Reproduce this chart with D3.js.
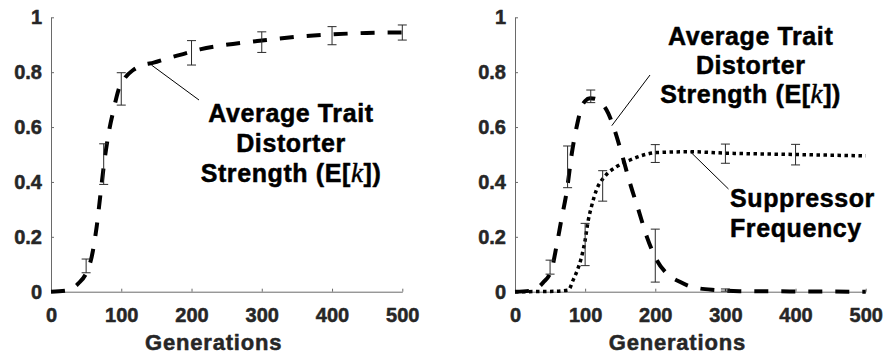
<!DOCTYPE html>
<html>
<head>
<meta charset="utf-8">
<script src="https://cdn.jsdelivr.net/npm/d3@7"></script>
<style>
  html, body { margin: 0; padding: 0; background: #fff; }
  svg { display: block; }
  text { font-family: "Liberation Sans", Arial, Helvetica, sans-serif; font-weight: bold; }
</style>
</head>
<body>
<svg id="chart" width="885" height="359"></svg>
<script>
// Axis ticks shared by both panels
const genTicks = [0, 100, 200, 300, 400, 500];
const valueTicks = [0, 0.2, 0.4, 0.6, 0.8, 1];

// Left panel: average trait distorter strength E[k] (no suppressor)
const leftGens     = [0, 22, 39, 51, 58, 65, 70, 75, 82, 89, 96, 105, 117, 131, 146, 165, 188, 212, 259, 307, 354, 402, 449, 500];
const leftStrength = [0, 0.004, 0.03, 0.073, 0.128, 0.237, 0.346, 0.456, 0.577, 0.662, 0.735, 0.778, 0.808, 0.826, 0.835, 0.85, 0.866, 0.883, 0.903, 0.917, 0.93, 0.938, 0.943, 0.945];
const leftBarGens  = [50, 75, 100, 200, 300, 400, 500];
const leftBarLow   = [0.069, 0.391, 0.680, 0.826, 0.872, 0.900, 0.917];
const leftBarHigh  = [0.119, 0.539, 0.798, 0.915, 0.947, 0.966, 0.972];

// Right panel: E[k] with a suppressor present
const rightGens     = [0, 20, 30, 40, 52, 59, 66, 74, 81, 89, 95, 100, 107, 114, 121, 133, 142, 152, 164, 176, 188, 202, 216, 235, 254, 287, 320, 400, 500];
const rightStrength = [0, 0.003, 0.01, 0.033, 0.079, 0.164, 0.261, 0.37, 0.504, 0.614, 0.674, 0.695, 0.705, 0.703, 0.693, 0.65, 0.589, 0.504, 0.395, 0.298, 0.2, 0.115, 0.067, 0.036, 0.016, 0.006, 0.002, 0.001, 0];
const rightBarGens  = [50, 75, 108, 200, 300];
const rightBarLow   = [0.064, 0.379, 0.689, 0.035, 0.002];
const rightBarHigh  = [0.115, 0.531, 0.735, 0.228, 0.010];

// Right panel: suppressor frequency
const suppGens     = [0, 50, 76, 83, 89, 95, 100, 104.5, 109, 116, 128, 145, 164, 183, 202, 250, 300, 400, 500];
const suppFreq     = [0, 0.001, 0.006, 0.043, 0.079, 0.128, 0.188, 0.261, 0.31, 0.37, 0.42, 0.456, 0.48, 0.498, 0.507, 0.51, 0.505, 0.5, 0.495];
const suppBarGens  = [100, 125, 200, 300, 400];
const suppBarLow   = [0.095, 0.330, 0.471, 0.468, 0.462];
const suppBarHigh  = [0.249, 0.441, 0.536, 0.538, 0.537];

const svg = d3.select("#chart");
const yTop = 17.3, yBottom = 291.7;
const axisColor = "#6a6a6a";
const labelColor = "#262626";

// Slightly heavier glyphs: a thin outline in the fill colour
function heavy(sel, color, w) {
  sel.attr("stroke", color).attr("stroke-width", w).attr("stroke-linejoin", "round").attr("paint-order", "stroke");
}

function makePanel(x0, x1) {
  const x = d3.scaleLinear().domain([0, 500]).range([x0, x1]);
  const y = d3.scaleLinear().domain([0, 1]).range([yBottom, yTop]);
  const g = svg.append("g");

  const xAxis = g.append("g")
    .attr("transform", `translate(0,${yBottom})`)
    .call(d3.axisBottom(x).tickValues(genTicks).tickSizeInner(-3).tickSizeOuter(0).tickPadding(16).tickFormat(d3.format("d")));
  const yAxis = g.append("g")
    .attr("transform", `translate(${x0},0)`)
    .call(d3.axisLeft(y).tickValues(valueTicks).tickSizeInner(-3).tickSizeOuter(0).tickPadding(9).tickFormat(d3.format("~g")));
  [xAxis, yAxis].forEach(a => {
    a.attr("font-size", null).attr("font-family", null);
    a.select(".domain").attr("stroke", axisColor).attr("stroke-width", 1);
    a.selectAll(".tick line").attr("stroke", axisColor).attr("stroke-width", 1);
    const t = a.selectAll(".tick text")
      .attr("fill", labelColor)
      .style("font-size", "20px")
      .style("font-family", "'Liberation Sans', Arial, sans-serif")
      .style("font-weight", "bold");
    heavy(t, labelColor, 0.5);
  });

  const lab = g.append("text")
    .attr("x", (x0 + x1) / 2 - 13)
    .attr("y", 350)
    .attr("text-anchor", "middle")
    .attr("fill", labelColor)
    .style("font-size", "22px")
    .style("letter-spacing", "0.8px")
    .text("Generations");
  heavy(lab, labelColor, 0.5);

  return { g, x, y };
}

function drawLine(panel, xs, ys, dash, width) {
  const line = d3.line()
    .x(d => panel.x(d[0]))
    .y(d => panel.y(d[1]))
    .curve(d3.curveMonotoneX);
  panel.g.append("path")
    .datum(xs.map((v, i) => [v, ys[i]]))
    .attr("d", line)
    .attr("fill", "none")
    .attr("stroke", "#000")
    .attr("stroke-width", width)
    .attr("stroke-dasharray", dash);
}

function drawBars(panel, gens, low, high) {
  const half = 4.5;
  const bars = panel.g.append("g").attr("stroke", "#2a2a2a").attr("stroke-width", 1).attr("fill", "none");
  gens.forEach((gen, i) => {
    const cx = panel.x(gen), yl = panel.y(low[i]), yh = panel.y(high[i]);
    bars.append("line").attr("x1", cx).attr("x2", cx).attr("y1", yl).attr("y2", yh);
    bars.append("line").attr("x1", cx - half).attr("x2", cx + half).attr("y1", yl).attr("y2", yl);
    bars.append("line").attr("x1", cx - half).attr("x2", cx + half).attr("y1", yh).attr("y2", yh);
  });
}

function leader(panel, p0, p1) {
  panel.g.append("line")
    .attr("x1", panel.x(p0[0])).attr("y1", panel.y(p0[1]))
    .attr("x2", p1[0]).attr("y2", p1[1])
    .attr("stroke", "#000").attr("stroke-width", 1);
}

function strengthLabel(panel, cx, baseline, spacing) {
  const t = panel.g.append("text")
    .attr("text-anchor", "middle")
    .attr("fill", "#000")
    .style("font-size", "25px")
    .style("letter-spacing", "0.6px");
  heavy(t, "#000", 0.5);
  t.append("tspan").attr("x", cx).attr("y", baseline).text("Average Trait");
  t.append("tspan").attr("x", cx).attr("y", baseline + spacing).text("Distorter");
  const s = t.append("tspan").attr("x", cx).attr("y", baseline + 2 * spacing);
  s.append("tspan").text("Strength (E[");
  s.append("tspan")
    .style("font-family", "'Liberation Serif', 'DejaVu Serif', serif")
    .style("font-style", "italic")
    .style("font-weight", "normal")
    .style("font-size", "27px")
    .text("k");
  s.append("tspan").text("])");
}

// Left panel
const left = makePanel(51, 402.3);
drawLine(left, leftGens, leftStrength, "14,13", 4);
drawBars(left, leftBarGens, leftBarLow, leftBarHigh);
leader(left, [143, 0.826], [199, 100]);
strengthLabel(left, 291, 122.3, 30);

// Right panel
const right = makePanel(515, 865.7);
drawLine(right, rightGens, rightStrength, "14,13", 4);
drawLine(right, suppGens, suppFreq, "3.5,3.5", 3.5);
drawBars(right, rightBarGens, rightBarLow, rightBarHigh);
drawBars(right, suppBarGens, suppBarLow, suppBarHigh);
leader(right, [138, 0.605], [650, 75]);
leader(right, [250, 0.51], [728.5, 189]);
strengthLabel(right, 750.7, 45, 29.2);

const supp = right.g.append("text")
  .attr("fill", "#000")
  .style("font-size", "25px")
  .style("letter-spacing", "0.6px");
heavy(supp, "#000", 0.5);
supp.append("tspan").attr("x", 730).attr("y", 207.3).text("Suppressor");
supp.append("tspan").attr("x", 730).attr("y", 236.7).text("Frequency");
</script>
</body>
</html>
